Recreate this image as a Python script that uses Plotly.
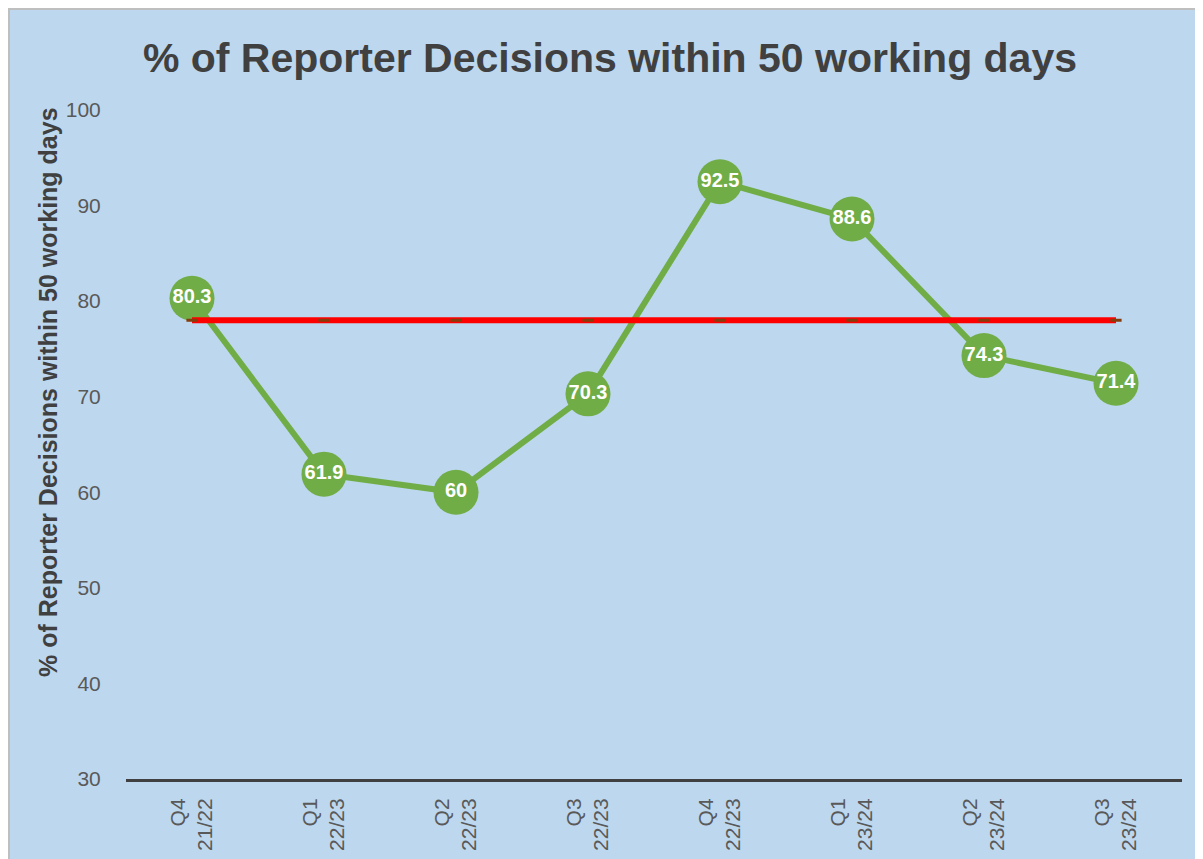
import plotly.graph_objects as go

categories = ["Q4<br>21/22", "Q1<br>22/23", "Q2<br>22/23", "Q3<br>22/23",
              "Q4<br>22/23", "Q1<br>23/24", "Q2<br>23/24", "Q3<br>23/24"]
actual = [80.3, 61.9, 60, 70.3, 92.5, 88.6, 74.3, 71.4]
target = [78, 78, 78, 78, 78, 78, 78, 78]

xs = list(range(len(categories)))

fig = go.Figure()
fig.add_trace(go.Scatter(
    x=xs, y=actual, mode="lines+markers+text",
    line=dict(color="#70AD47", width=6),
    marker=dict(color="#70AD47", size=45),
    text=[f"<b>{v:g}</b>" for v in actual], textposition="middle center",
    textfont=dict(color="white", size=20, family="Liberation Sans"),
    cliponaxis=False, showlegend=False, hoverinfo="skip"))
fig.add_trace(go.Scatter(
    x=xs, y=target, mode="lines+markers",
    line=dict(color="#FF0000", width=6),
    marker=dict(color="#843C0C", size=8, symbol="line-ew", line=dict(color="#843C0C", width=3)),
    showlegend=False, hoverinfo="skip"))

L, R, T, B = 118, 29, 102, 88
fig.update_layout(
    width=1203, height=859,
    paper_bgcolor="#BDD7EE", plot_bgcolor="#BDD7EE",
    margin=dict(l=L, r=R, t=T, b=B),
    title=dict(text="<b>% of Reporter Decisions within 50 working days</b>",
               x=0.5004, xanchor="center", y=0.942, yanchor="middle",
               font=dict(size=41, color="#404040", family="Liberation Sans")),
    font=dict(family="Liberation Sans", color="#595959"),
)
fig.update_xaxes(
    tickmode="array", tickvals=xs, ticktext=categories, tickangle=-90,
    range=[-0.5, 7.5], showgrid=False, zeroline=False,
    showline=True, linecolor="#404040", linewidth=3,
    tickfont=dict(size=21, color="#595959"),
    ticks="outside", ticklen=8, tickcolor="rgba(0,0,0,0)")
fig.update_yaxes(
    range=[30, 100], dtick=10, showgrid=False, zeroline=False, showline=False,
    tickfont=dict(size=21, color="#595959"),
    ticks="outside", ticklen=20, tickcolor="rgba(0,0,0,0)")

pw = 1203 - L - R
ph = 859 - T - B
fig.add_annotation(
    text="<b>% of Reporter Decisions within 50 working days</b>",
    textangle=-90, xref="paper", yref="paper",
    x=(40 - L) / pw, y=(771 - 384) / ph, xanchor="center", yanchor="middle",
    showarrow=False, font=dict(size=25, color="#404040", family="Liberation Sans"))

# chart border
fig.add_shape(type="rect", xref="paper", yref="paper",
              x0=(1 - L) / pw, x1=(1203 + 5 - L) / pw,
              y0=-(B + 5) / ph, y1=(ph + T - 1) / ph,
              line=dict(width=2, color="#BFBFBF"), fillcolor="rgba(0,0,0,0)", layer="below")

fig.write_html("out.html")
